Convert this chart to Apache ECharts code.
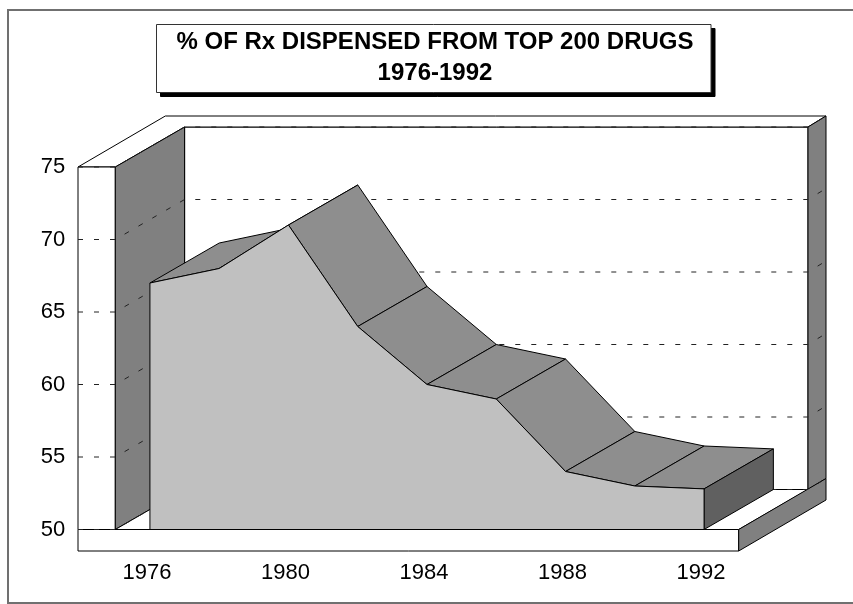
<!DOCTYPE html>
<html>
<head>
<meta charset="utf-8">
<style>html,body{margin:0;padding:0;background:#fff}#c{width:853px;height:604px}</style>
<script src="https://cdn.jsdelivr.net/npm/echarts@6/dist/echarts.min.js"></script>
</head>
<body>
<div id="c"></div>
<script>
var years = ['1976','1978','1980','1982','1984','1986','1988','1990','1992'];
var shares = [67, 68, 71, 64, 60, 59, 54, 53, 52.8];
var yTicks = [50, 55, 60, 65, 70, 75];
var titleText = '% OF Rx DISPENSED FROM TOP 200 DRUGS\n1976-1992';

var DX = 69.3, DY = -40;       // depth of the wall plane
var ODX = 87.3, ODY = -51;     // depth of the outer slab edge
var SLAB = 37.3, FLOOR = 21.5; // slab thickness
var WALL = '#808080', TOP = '#8e8e8e', FRONT = '#c0c0c0', END = '#606060';

function poly(pts, fill){
  return {type:'polygon', shape:{points:pts}, style:{fill:fill, stroke:'#000', lineWidth:1}};
}

function renderWalls(params, api){
  var c = params.coordSys, L = c.x, R = c.x + c.width;
  var T = api.coord([0, 75])[1], B = api.coord([0, 50])[1];
  return {type:'group', children:[
    poly([[L+DX,T+DY],[R+DX,T+DY],[R+DX,B+DY],[L+DX,B+DY]], '#fff'),
    poly([[L-SLAB,T],[L-SLAB+ODX,T+ODY],[R+ODX,T+ODY],[R+DX,T+DY],[L+DX,T+DY],[L,T]], '#fff'),
    poly([[L-SLAB,T],[L,T],[L,B],[L-SLAB,B]], '#fff'),
    poly([[L,T],[L+DX,T+DY],[L+DX,B+DY],[L,B]], WALL),
    poly([[R+DX,T+DY],[R+ODX,T+ODY],[R+ODX,B+ODY],[R+DX,B+DY]], WALL),
    poly([[L,B],[L+DX,B+DY],[R+DX,B+DY],[R,B]], '#fff'),
    poly([[L-SLAB,B],[R,B],[R,B+FLOOR],[L-SLAB,B+FLOOR]], '#fff'),
    poly([[R,B],[R+ODX,B+ODY],[R+ODX,B+ODY+FLOOR],[R,B+FLOOR]], WALL)
  ]};
}

function renderGrid(params, api){
  var c = params.coordSys, L = c.x, R = c.x + c.width;
  var y = api.coord([0, api.value(1)])[1];
  return {type:'polyline',
    shape:{points:[[L-SLAB,y],[L,y],[L+DX,y+DY],[R+DX,y+DY],[R+ODX,y+ODY]]},
    style:{fill:null, stroke:'#222', lineWidth:1, lineDash:[5,11]}};
}

function renderFacets(params, api){
  var i = api.value(0), a = api.coord([i, api.value(1)]), b = api.coord([i+1, api.value(2)]);
  return poly([a, b, [b[0]+DX,b[1]+DY], [a[0]+DX,a[1]+DY]], TOP);
}

function renderEnd(params, api){
  var i = api.value(0), a = api.coord([i, api.value(1)]), o = api.coord([i, 50]);
  return poly([a, [a[0]+DX,a[1]+DY], [o[0]+DX,o[1]+DY], o], END);
}

function renderEdges(params, api){
  var n = shares.length - 1;
  return {type:'polyline', shape:{points:[
    api.coord([0, shares[0]]), api.coord([0, 50]), api.coord([n, 50]), api.coord([n, shares[n]])
  ]}, style:{fill:null, stroke:'#000', lineWidth:1}};
}

var facets = [];
for (var k = 0; k < shares.length - 1; k++) facets.push([k, shares[k], shares[k+1]]);

var chart = echarts.init(document.getElementById('c'), null, {renderer:'canvas'});
chart.setOption({
  animation:false,
  backgroundColor:'#fff',
  graphic:[
    {type:'rect', z:-1, silent:true, shape:{x:8,y:10,width:900,height:593},
      style:{fill:'#fff',stroke:'#707070',lineWidth:2}},
    {type:'rect', z:0, silent:true, shape:{x:160.5,y:28.5,width:554.5,height:68},
      style:{fill:'#000',stroke:'#000',lineWidth:1}},
    {type:'rect', z:0, silent:true, shape:{x:156.5,y:24.5,width:554.5,height:68},
      style:{fill:'#fff',stroke:'#333',lineWidth:1}}
  ],
  title:{
    text:titleText, left:435, top:27, textAlign:'center', padding:0, z:10,
    textStyle:{fontFamily:'Liberation Sans',fontWeight:'bold',fontSize:24,lineHeight:31,color:'#000',align:'center'}
  },
  grid:{left:115.3, top:167, width:623.4, height:362.5, containLabel:false},
  xAxis:{type:'category', data:years, boundaryGap:true,
    axisLine:{show:false}, axisTick:{show:false}, splitLine:{show:false},
    axisLabel:{interval:1, margin:32, padding:[0,6,0,0], color:'#000', fontFamily:'Liberation Sans', fontSize:22}},
  yAxis:{type:'value', min:50, max:75, interval:5,
    axisLine:{show:false}, axisTick:{show:false}, splitLine:{show:false},
    axisLabel:{margin:50, padding:[5,0,0,0], color:'#000', fontFamily:'Liberation Sans', fontSize:22}},
  series:[
    {type:'custom', name:'walls', z:1, silent:true, renderItem:renderWalls, data:[[0,50]]},
    {type:'custom', name:'gridlines', z:2, silent:true, renderItem:renderGrid, data:yTicks.map(function(v){return [0,v];})},
    {type:'custom', name:'top', z:3, silent:true, renderItem:renderFacets, data:facets},
    {type:'custom', name:'end', z:3, silent:true, renderItem:renderEnd, data:[[shares.length-1, shares[shares.length-1]]]},
    {type:'line', name:'% of Rx', z:4, data:shares, symbol:'none', silent:true,
      lineStyle:{color:'#000',width:1}, areaStyle:{color:FRONT,opacity:1,origin:'start'}},
    {type:'custom', name:'edges', z:5, silent:true, renderItem:renderEdges, data:[[0,50]]}
  ]
});
</script>
</body>
</html>
